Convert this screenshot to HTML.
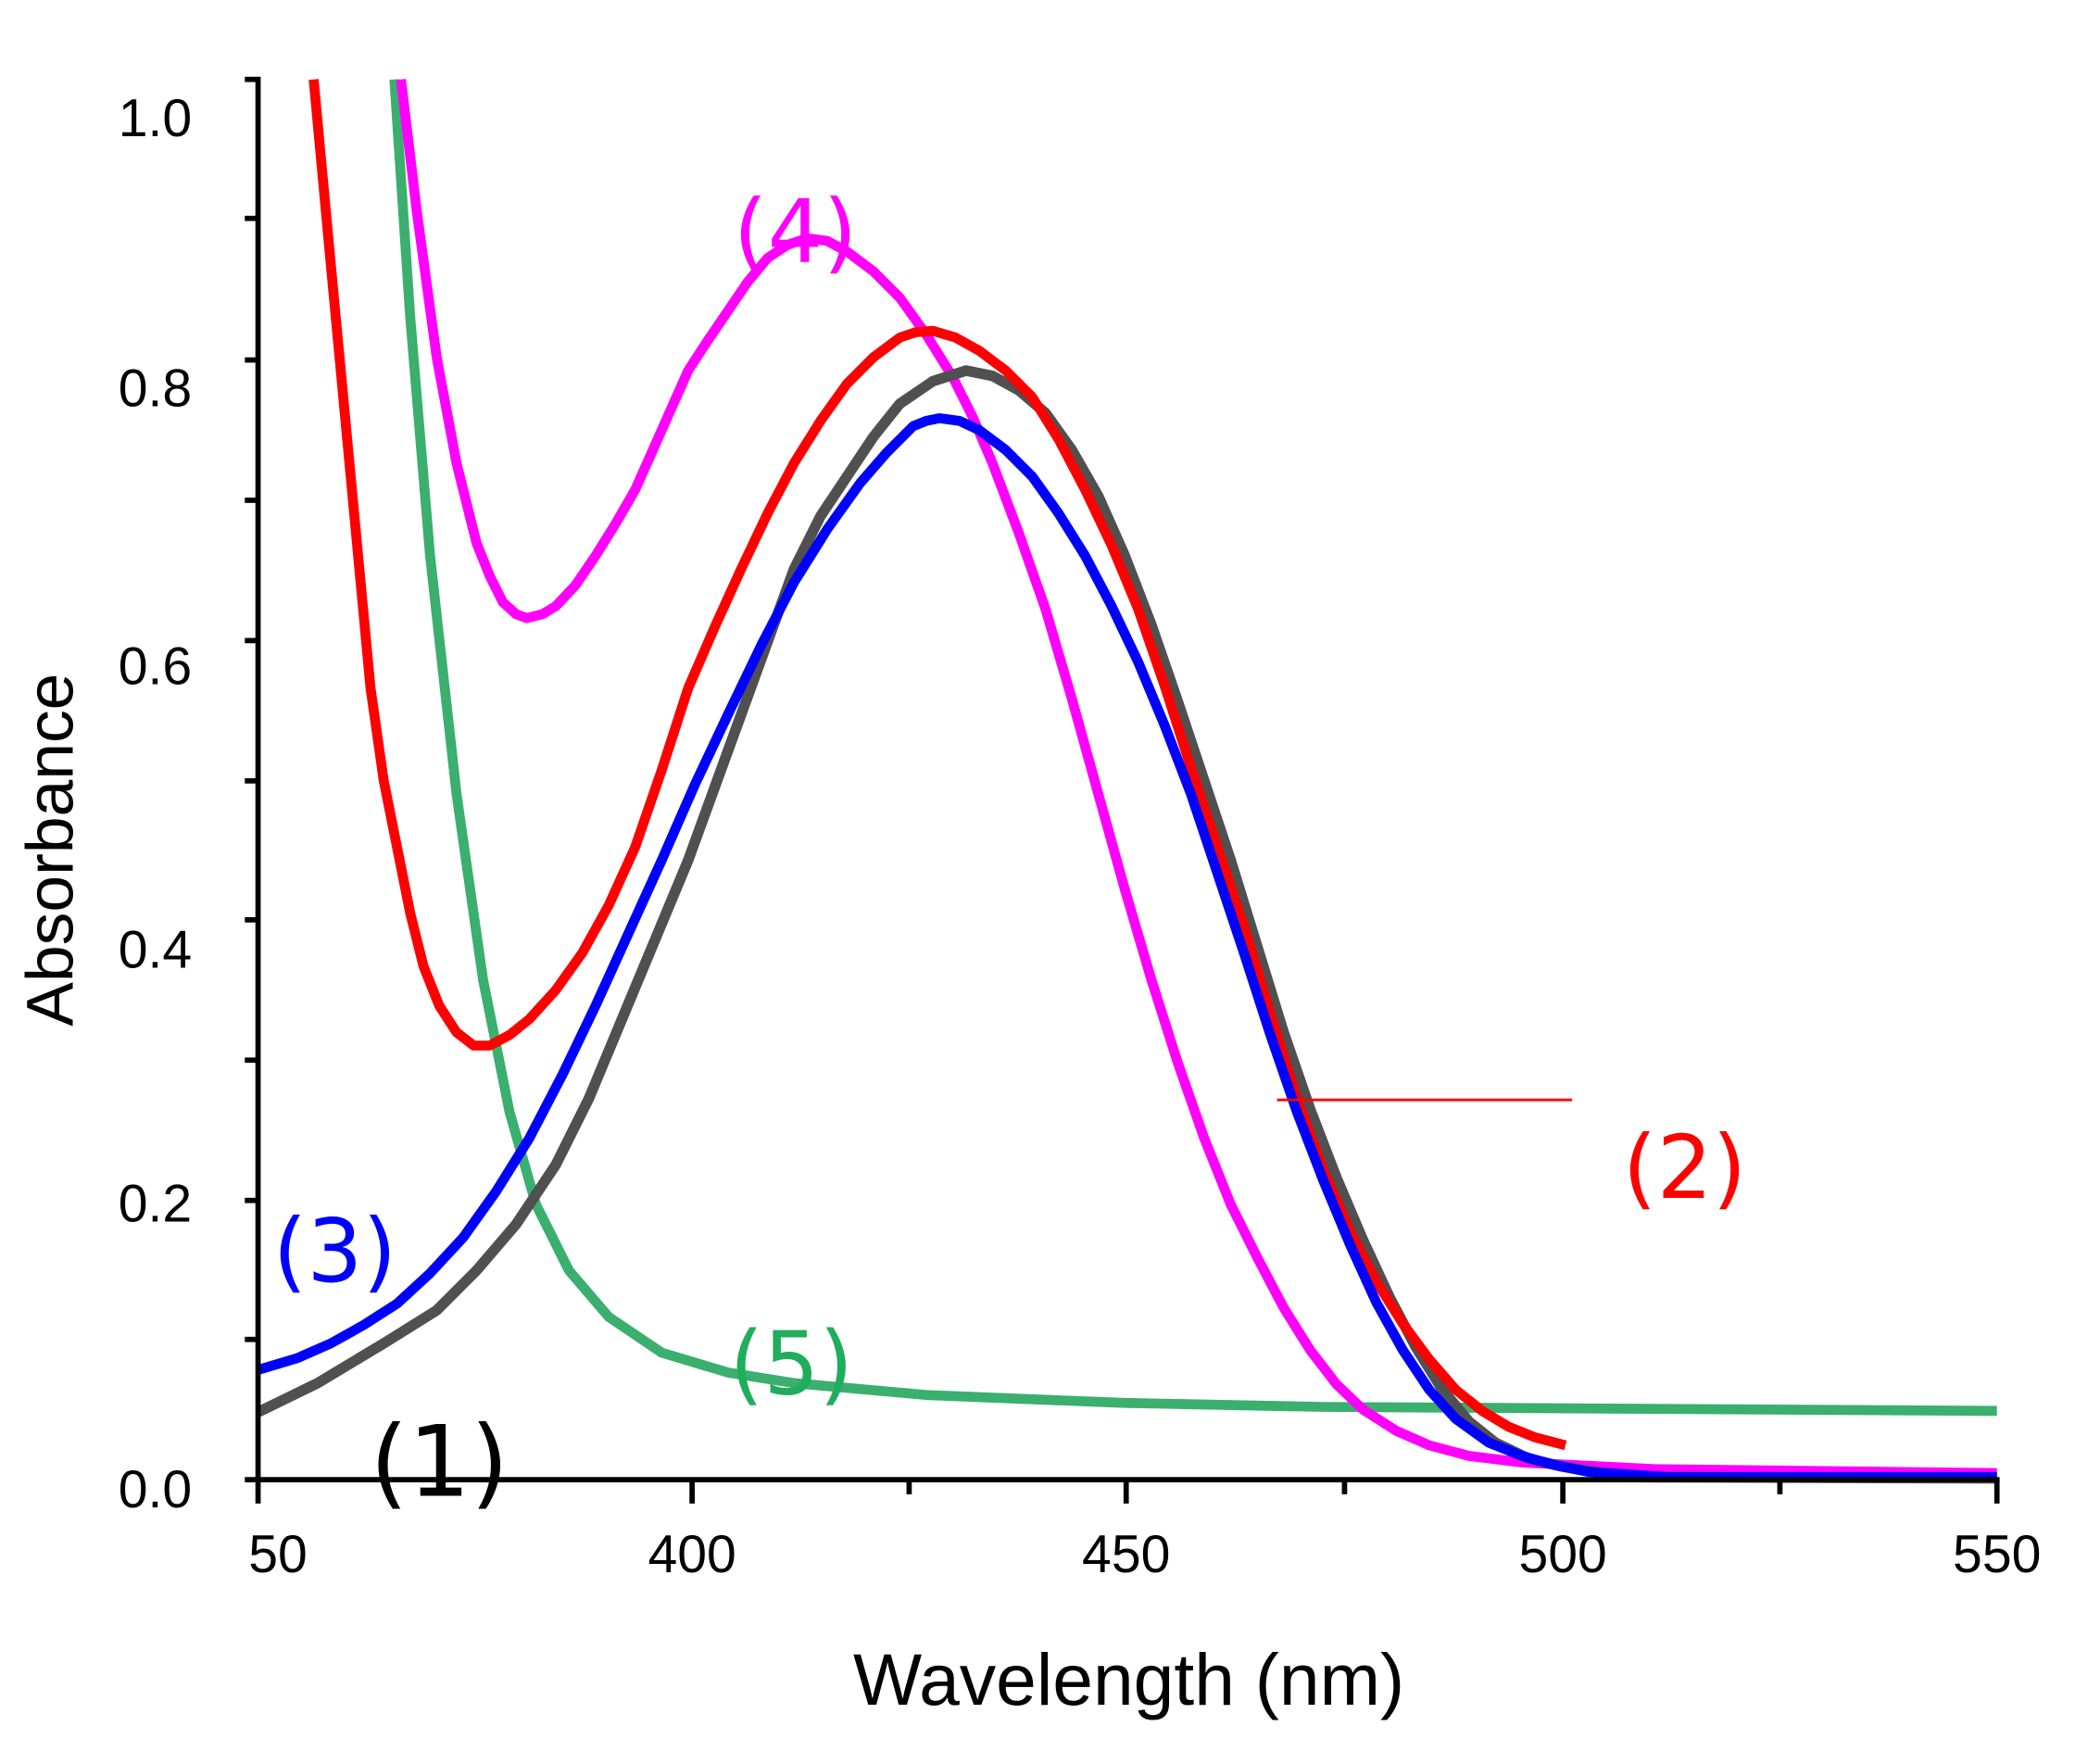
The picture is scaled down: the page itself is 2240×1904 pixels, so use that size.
<!DOCTYPE html>
<html><head><meta charset="utf-8"><style>html,body{margin:0;padding:0;background:#fff}svg{display:block}</style></head>
<body>
<svg width="2240" height="1904" viewBox="0 0 1568 1332.8" xmlns="http://www.w3.org/2000/svg" font-family="Liberation Sans, sans-serif">
<rect width="1568" height="1333" fill="#fff"/>
<g fill="none" stroke-linejoin="round" stroke-linecap="butt" stroke-width="7.5">
<polyline stroke="#3aaf6e" points="298,60 310,240 325,420 345,600 365,740 385,840 405,910 430,960 460,995 500,1022 550,1037 600,1045 700,1054 850,1060 1000,1063 1509,1066"/>
<polyline stroke="#ff00ff" points="303,60 315,160 330,270 345,350 360,410 370,435 380,455 390,464 398,467 410,464 420,458 435,442 450,420 465,396 480,370 500,325 520,280 535,257 550,235 565,213 580,195 595,185 610,180 625,182 640,190 660,205 680,225 700,253 720,285 735,315 750,350 770,403 790,460 810,528 830,600 850,672 870,740 890,803 910,860 930,910 950,950 970,988 990,1020 1010,1046 1030,1065 1055,1081 1080,1092 1110,1100 1150,1105 1250,1110 1509,1113"/>
<polyline stroke="#505050" stroke-width="8" points="195,1067 240,1045 290,1015 330,990 360,960 390,925 420,880 445,830 470,770 495,710 520,650 540,595 560,540 580,485 600,430 620,390 640,360 660,330 680,305 705,288 730,280 750,284 770,295 790,312 810,340 830,375 850,420 870,472 890,530 910,590 930,650 950,715 970,780 990,838 1010,890 1030,937 1050,980 1070,1018 1090,1050 1110,1074 1130,1090 1155,1102 1180,1108 1230,1116 1509,1117"/>
<polyline stroke="#ff0000" points="237,60 250,200 265,360 280,520 290,590 300,640 310,690 320,730 332,760 345,780 358,790 370,790 385,782 400,770 420,748 440,720 460,684 480,640 500,582 520,520 540,474 560,430 580,388 600,350 620,318 640,290 660,270 680,255 692,251 705,250 722,255 740,265 760,280 780,300 800,332 820,370 840,412 860,460 880,518 900,580 920,640 940,700 960,766 980,830 1000,884 1020,930 1040,968 1060,1000 1080,1027 1100,1050 1120,1066 1140,1078 1160,1086 1183,1092"/>
<polyline stroke="#0000ff" points="195,1035 225,1026 250,1015 275,1001 300,985 325,962 350,935 375,900 400,860 425,812 450,760 475,705 500,650 525,593 550,540 575,488 600,440 625,400 650,365 670,342 690,322 700,318 710,316 725,318 740,325 760,340 780,360 800,388 820,420 840,458 860,500 880,548 900,600 920,660 940,720 960,782 980,840 1000,892 1020,940 1040,984 1060,1020 1080,1050 1100,1072 1125,1090 1150,1100 1175,1107 1200,1112 1260,1116 1509,1116"/>
<line x1="965" y1="831" x2="1188" y2="831" stroke="#ff0000" stroke-width="2"/>
</g>
<g stroke="#000" stroke-width="4">
<line x1="195" y1="58" x2="195" y2="1120"/>
<line x1="185" y1="1118" x2="1511" y2="1118"/>
<line x1="185" y1="60" x2="195" y2="60"/>
<line x1="185" y1="165" x2="195" y2="165"/>
<line x1="185" y1="272" x2="195" y2="272"/>
<line x1="185" y1="378" x2="195" y2="378"/>
<line x1="185" y1="484" x2="195" y2="484"/>
<line x1="185" y1="590" x2="195" y2="590"/>
<line x1="185" y1="695" x2="195" y2="695"/>
<line x1="185" y1="801" x2="195" y2="801"/>
<line x1="185" y1="907" x2="195" y2="907"/>
<line x1="185" y1="1012" x2="195" y2="1012"/>
<line x1="195" y1="1118" x2="195" y2="1136"/>
<line x1="523" y1="1118" x2="523" y2="1136"/>
<line x1="851" y1="1118" x2="851" y2="1136"/>
<line x1="1181" y1="1118" x2="1181" y2="1136"/>
<line x1="1509" y1="1118" x2="1509" y2="1136"/>
<line x1="687" y1="1118" x2="687" y2="1129"/>
<line x1="1016" y1="1118" x2="1016" y2="1129"/>
<line x1="1345" y1="1118" x2="1345" y2="1129"/>
</g>
<g font-size="40" fill="#000" text-anchor="end">
<text x="145" y="103">1.0</text>
<text x="145" y="307">0.8</text>
<text x="145" y="517">0.6</text>
<text x="145" y="731">0.4</text>
<text x="145" y="923">0.2</text>
<text x="145" y="1139">0.0</text>
</g>
<g font-size="40" fill="#000" text-anchor="middle">
<text x="210" y="1188">50</text>
<text x="523" y="1188">400</text>
<text x="851" y="1188">450</text>
<text x="1181" y="1188">500</text>
<text x="1509" y="1188">550</text>
</g>
<text x="853" y="1288" font-size="55" text-anchor="middle">Wavelength (nm)</text>
<text transform="translate(55,642) rotate(-90)" font-size="50" text-anchor="middle">Absorbance</text>
<g font-family="DejaVu Sans, sans-serif" text-anchor="middle">
<text x="601" y="198" font-size="66" fill="#ff00ff">(4)</text>
<text x="1273" y="905" font-size="66" fill="#ff0000">(2)</text>
<text x="253" y="968" font-size="66" fill="#0000ff">(3)</text>
<text x="598" y="1053" font-size="66" fill="#1fae5c">(5)</text>
<text x="332" y="1130" font-size="74" fill="#000">(1)</text>
</g>
</svg>
</body></html>
